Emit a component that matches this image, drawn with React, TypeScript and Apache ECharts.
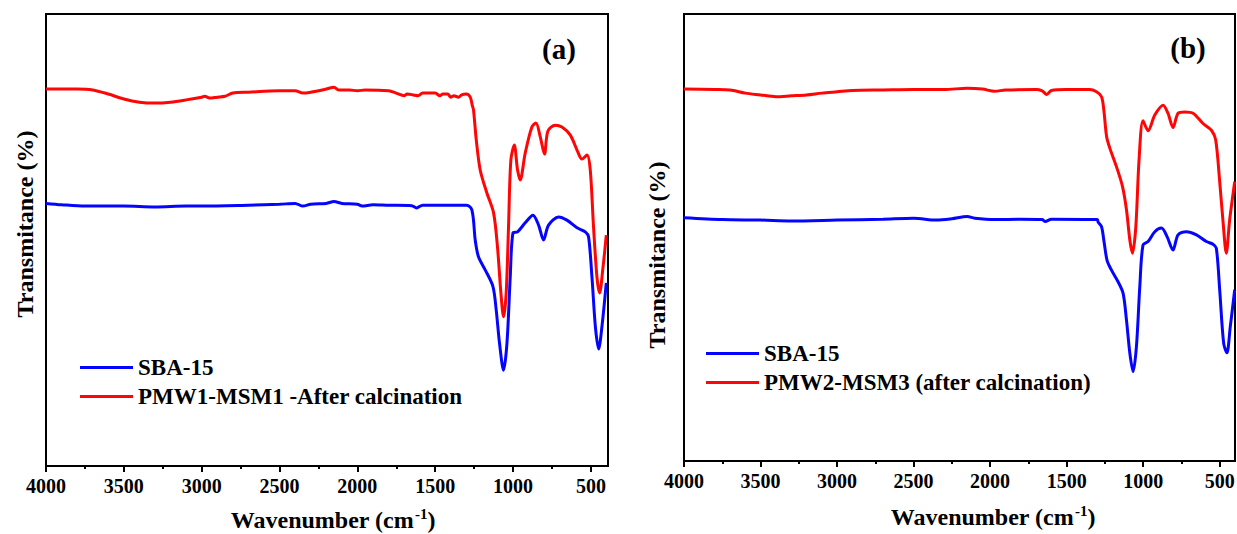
import React, { useEffect, useRef } from "react";
import * as echarts from "echarts";

// Panel (a): [wavenumber cm-1, transmittance (arb.)]
const SBA15_A: [number, number][] = [
  [4000, 58.1], [3900, 57.8], [3750, 57.5], [3600, 57.5], [3500, 57.5], [3300, 57.3], [3100, 57.5],
  [3000, 57.5], [2700, 57.7], [2500, 57.9], [2400, 58.1], [2350, 57.5], [2300, 57.9], [2200, 58.1],
  [2150, 58.5], [2100, 58.1], [2000, 57.9], [1970, 57.5], [1900, 57.8], [1800, 57.7], [1650, 57.6],
  [1620, 57.1], [1580, 57.7], [1400, 57.7], [1300, 57.7], [1275, 57.3], [1264, 56.6], [1254, 54.4],
  [1243, 50.0], [1222, 46.3], [1179, 43.4], [1129, 39.7], [1108, 34.5], [1087, 27.2], [1061, 21.2],
  [1039, 27.2], [1018, 41.8], [1001, 51.5], [971, 51.8], [922, 53.8], [872, 55.5], [836, 53.3],
  [804, 50.0], [772, 53.3], [707, 55.1], [654, 54.4], [589, 52.7], [536, 51.8], [515, 50.7],
  [493, 41.8], [471, 30.8], [450, 25.9], [429, 30.8], [401, 40.5],
];

const PMW1_A: [number, number][] = [
  [4000, 83.4], [3800, 83.4], [3700, 83.2], [3600, 82.3], [3500, 81.2], [3400, 80.5], [3300, 80.3],
  [3200, 80.5], [3100, 81.0], [3000, 81.6], [2980, 81.8], [2950, 81.4], [2900, 81.6], [2850, 81.8],
  [2800, 82.5], [2700, 82.7], [2500, 83.0], [2400, 83.0], [2350, 82.5], [2300, 82.7], [2200, 83.4],
  [2150, 83.8], [2120, 83.2], [2050, 83.2], [2000, 83.0], [1950, 83.2], [1800, 83.0], [1750, 82.5],
  [1700, 81.9], [1680, 82.3], [1640, 82.1], [1610, 81.9], [1580, 82.5], [1500, 82.5], [1470, 81.9],
  [1450, 82.3], [1420, 82.3], [1400, 81.6], [1380, 81.9], [1350, 81.6], [1330, 82.1], [1300, 82.3],
  [1275, 81.6], [1262, 79.8], [1254, 78.8], [1236, 72.1], [1211, 65.5], [1168, 60.4], [1125, 56.0],
  [1100, 48.5], [1078, 38.3], [1061, 33.0], [1044, 38.3], [1029, 52.9], [1014, 67.7], [992, 71.0],
  [971, 65.5], [954, 63.3], [922, 69.2], [879, 75.0], [853, 75.9], [825, 72.8], [798, 69.0],
  [776, 74.1], [729, 75.4], [686, 75.0], [632, 73.2], [589, 69.9], [557, 67.9], [525, 68.8],
  [504, 65.5], [483, 52.9], [461, 41.8], [444, 38.3], [422, 44.0], [401, 51.1],
];

// Panel (b)
const SBA15_B: [number, number][] = [
  [4000, 54.4], [3750, 54.0], [3500, 53.9], [3300, 53.7], [3000, 53.9], [2700, 54.1], [2500, 54.3],
  [2350, 53.9], [2250, 54.2], [2150, 54.7], [2100, 54.3], [1970, 54.0], [1800, 54.1], [1660, 54.0],
  [1640, 53.6], [1600, 54.1], [1300, 54.0], [1294, 53.4], [1272, 52.4], [1257, 49.4], [1236, 44.9],
  [1207, 42.7], [1164, 40.1], [1131, 37.5], [1109, 31.5], [1087, 24.1], [1066, 20.0], [1044, 25.6],
  [1022, 39.0], [1001, 48.3], [968, 49.1], [924, 51.3], [881, 52.1], [844, 50.2], [805, 47.2],
  [772, 50.6], [718, 51.3], [652, 50.6], [587, 49.1], [544, 48.5], [522, 47.6], [500, 38.3],
  [474, 26.3], [453, 24.2], [431, 30.0], [402, 38.3],
];

const PMW2_B: [number, number][] = [
  [4000, 83.2], [3800, 83.1], [3700, 83.0], [3600, 82.3], [3500, 81.9], [3400, 81.5], [3300, 81.7],
  [3200, 81.9], [3100, 82.3], [3000, 82.6], [2900, 82.9], [2700, 83.0], [2500, 83.1], [2300, 83.1],
  [2150, 83.4], [2050, 83.2], [1970, 82.7], [1900, 83.0], [1700, 83.1], [1660, 82.8], [1630, 82.0],
  [1600, 82.9], [1500, 83.1], [1350, 83.1], [1305, 82.6], [1272, 81.5], [1257, 78.5], [1239, 72.6],
  [1218, 70.0], [1174, 65.8], [1135, 61.4], [1109, 56.2], [1087, 49.4], [1070, 46.5], [1048, 52.4],
  [1027, 67.3], [1001, 76.1], [968, 73.9], [924, 77.4], [870, 79.6], [838, 77.8], [805, 74.6],
  [772, 77.8], [729, 78.1], [674, 77.8], [609, 75.5], [554, 74.0], [526, 71.8], [500, 62.5],
  [479, 53.9], [457, 46.5], [435, 53.9], [402, 62.5],
];

const MAJOR_TICKS = [4000, 3500, 3000, 2500, 2000, 1500, 1000, 500];
const MINOR_TICKS = [3750, 3250, 2750, 2250, 1750, 1250, 750];

const NAME_SBA = "SBA-15";
const NAME_A = "PMW1-MSM1 -After calcination";
const NAME_B = "PMW2-MSM3 (after calcination)";
const Y_TITLE = "Transmitance (%)";
const X_TITLE = "{a|Wavenumber (cm}{s|-1}{a|)}";

const FONT = "Liberation Serif, serif";
const BLUE = "#0505ff";
const RED = "#ff0505";

function mainX(gridIndex: number, min: number) {
  return {
    type: "value",
    gridIndex,
    position: "bottom",
    min,
    max: 4000,
    inverse: true,
    splitLine: { show: false },
    axisLine: { show: true, onZero: false, lineStyle: { color: "#000", width: 2 } },
    axisTick: { show: true, inside: false, length: 6, customValues: MAJOR_TICKS, lineStyle: { color: "#000", width: 2 } },
    axisLabel: {
      show: true,
      customValues: MAJOR_TICKS,
      formatter: (v: number) => String(v),
      margin: 10,
      color: "#000",
      fontFamily: FONT,
      fontWeight: "bold",
      fontSize: 20,
    },
  };
}

function minorX(gridIndex: number, min: number) {
  return {
    type: "value",
    gridIndex,
    position: "bottom",
    offset: 0,
    min,
    max: 4000,
    inverse: true,
    splitLine: { show: false },
    axisLine: { show: false, onZero: false },
    axisTick: { show: true, inside: false, length: 3, customValues: MINOR_TICKS, lineStyle: { color: "#000", width: 2 } },
    axisLabel: { show: false },
  };
}

function yAx(gridIndex: number) {
  return {
    type: "value",
    gridIndex,
    min: 0,
    max: 100,
    axisLine: { show: false },
    axisTick: { show: false },
    axisLabel: { show: false },
    splitLine: { show: false },
  };
}

function line(name: string, data: [number, number][], color: string, xAxisIndex: number, yAxisIndex: number) {
  return {
    type: "line",
    name,
    data,
    xAxisIndex,
    yAxisIndex,
    symbol: "none",
    smooth: 0.3,
    lineStyle: { color, width: 3 },
    itemStyle: { color },
  };
}

function legendAt(left: number, top: number, names: string[]) {
  return {
    orient: "vertical",
    left,
    top,
    data: names.map((n) => ({ name: n, icon: "rect" })),
    itemWidth: 53,
    itemHeight: 3,
    itemGap: 6,
    selectedMode: false,
    textStyle: { fontFamily: FONT, fontWeight: "bold", fontSize: 23, color: "#000", lineHeight: 23 },
  };
}

function textEl(text: string, x: number, y: number, size: number, rotation = 0) {
  return {
    type: "text",
    x,
    y,
    rotation,
    style: {
      text,
      fill: "#000",
      fontFamily: FONT,
      fontWeight: "bold",
      fontSize: size,
      align: "center",
      verticalAlign: "middle",
    },
  };
}

function xTitle(x: number, y: number) {
  return {
    type: "text",
    x,
    y,
    style: {
      text: X_TITLE,
      fill: "#000",
      align: "center",
      verticalAlign: "middle",
      rich: {
        a: { fontFamily: FONT, fontWeight: "bold", fontSize: 24, lineHeight: 27, fill: "#000" },
        s: { fontFamily: FONT, fontWeight: "bold", fontSize: 15, lineHeight: 27, verticalAlign: "top", padding: [0, 0, 0, 1], fill: "#000" },
      },
    },
  };
}

export default function App() {
  const ref = useRef<HTMLDivElement>(null);
  useEffect(() => {
    if (!ref.current) return;
    const chart = echarts.init(ref.current, undefined, { renderer: "svg" });
    chart.setOption({
      animation: false,
      backgroundColor: "#fff",
      grid: [
        { left: 46, top: 14, width: 562, height: 452, show: true, borderColor: "#000", borderWidth: 2, containLabel: false, outerBoundsMode: "none" },
        { left: 684, top: 14, width: 551, height: 447, show: true, borderColor: "#000", borderWidth: 2, containLabel: false, outerBoundsMode: "none" },
      ],
      xAxis: [mainX(0, 390), minorX(0, 390), mainX(1, 400), minorX(1, 400)],
      yAxis: [yAx(0), yAx(1)],
      legend: [legendAt(75, 351, [NAME_SBA, NAME_A]), legendAt(701, 337, [NAME_SBA, NAME_B])],
      series: [
        line(NAME_SBA, SBA15_A, BLUE, 0, 0),
        line(NAME_A, PMW1_A, RED, 0, 0),
        line(NAME_SBA, SBA15_B, BLUE, 2, 1),
        line(NAME_B, PMW2_B, RED, 2, 1),
      ],
      graphic: [
        textEl("(a)", 559, 49, 29),
        textEl("(b)", 1188, 48, 29),
        textEl(Y_TITLE, 25, 224, 24, Math.PI / 2),
        textEl(Y_TITLE, 657, 255, 24, Math.PI / 2),
        xTitle(333, 520),
        xTitle(993, 517),
      ],
    });
    return () => chart.dispose();
  }, []);
  return <div ref={ref} style={{ position: "fixed", left: 0, top: 0, width: 1237, height: 534 }} />;
}
